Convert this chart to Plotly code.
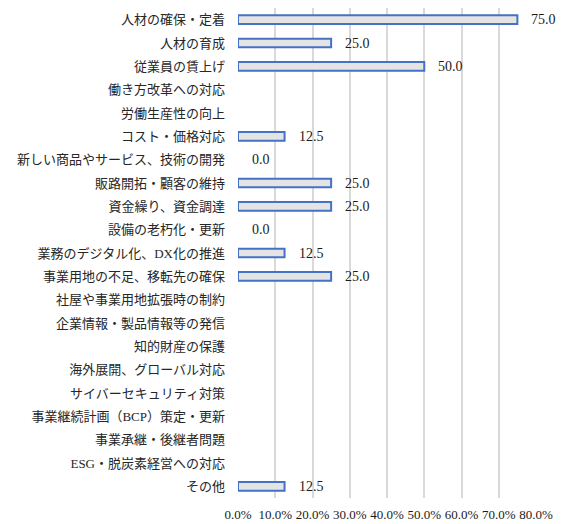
import plotly.graph_objects as go

categories = [
    "人材の確保・定着", "人材の育成", "従業員の賃上げ", "働き方改革への対応", "労働生産性の向上",
    "コスト・価格対応", "新しい商品やサービス、技術の開発", "販路開拓・顧客の維持", "資金繰り、資金調達",
    "設備の老朽化・更新", "業務のデジタル化、DX化の推進", "事業用地の不足、移転先の確保",
    "社屋や事業用地拡張時の制約", "企業情報・製品情報等の発信", "知的財産の保護",
    "海外展開、グローバル対応", "サイバーセキュリティ対策", "事業継続計画（BCP）策定・更新",
    "事業承継・後継者問題", "ESG・脱炭素経営への対応", "その他",
]
values = [75.0, 25.0, 50.0, None, None, 12.5, 0.0, 25.0, 25.0, 0.0, 12.5, 25.0,
          None, None, None, None, None, None, None, None, 12.5]
tick_vals = [0, 10, 20, 30, 40, 50, 60, 70, 80]

FONT = "Liberation Serif, Noto Sans CJK JP, serif"

fig = go.Figure()
fig.add_trace(go.Bar(
    y=categories, x=[v if v else None for v in values], orientation="h",
    marker=dict(color="#e4e4e4", line=dict(color="#4472c4", width=2)),
    hoverinfo="skip",
))
for c, v in zip(categories, values):
    if v is None:
        continue
    fig.add_annotation(x=v, y=c, text=f"{v:.1f}", showarrow=False, xanchor="left",
                       xshift=12, font=dict(family=FONT, size=14, color="#1a1a1a"))

# page body has an 8px default margin; size the figure so the plot lands where the reference's does
fig.update_layout(
    width=557, height=516, margin=dict(l=230, r=29, t=0, b=26, autoexpand=False),
    paper_bgcolor="white", plot_bgcolor="white", showlegend=False, bargap=0.63,
    font=dict(family=FONT, size=13, color="#262626"),
)
fig.update_xaxes(range=[0, 80], tickvals=tick_vals, ticktext=[f"{t:.1f}%" for t in tick_vals],
                 showgrid=True, gridcolor="#d9d9d9", gridwidth=2, zeroline=False,
                 showline=False, ticks="", automargin=False, ticklabelstandoff=7,
                 tickfont=dict(size=13, color="#1a1a1a"))
fig.update_yaxes(autorange="reversed", showgrid=False, ticks="", ticklabelstandoff=12,
                 automargin=False, tickfont=dict(size=13, color="#262626"))

fig.write_html("out.html")
